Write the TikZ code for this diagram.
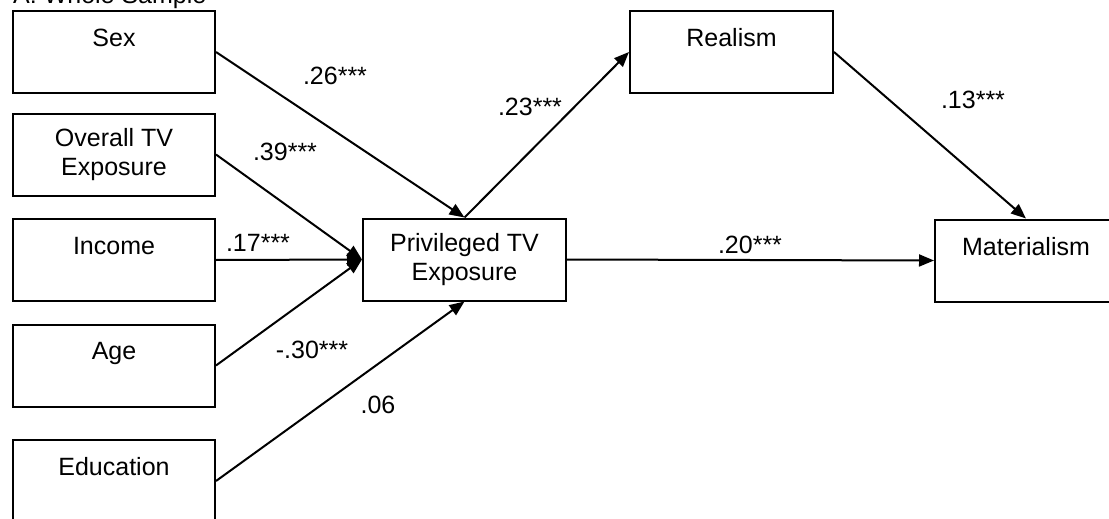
\documentclass[tikz,border=0pt]{standalone}
\usepackage{fontspec}
\setmainfont{Liberation Sans}
\usetikzlibrary{arrows.meta,positioning}
\tikzstyle{block} = [rectangle, draw, line width=2pt, minimum width=202pt,
    minimum height=82pt, inner sep=0pt, align=center,
    font=\fontsize{25}{28.5}\selectfont]
\tikzstyle{line} = [draw, line width=2pt, -{Triangle[length=15pt,width=12pt]}]
\tikzstyle{coef} = [inner sep=0pt, font=\fontsize{25}{28.5}\selectfont]

\begin{document}
\begin{tikzpicture}[x=1pt,y=-1pt]
        \useasboundingbox (0,0) rectangle (1109,519);
        % Title (cut at the top)
        \node [coef, anchor=base west] (title) at (13,4) {A: Whole Sample};
        % Place nodes
        \node [block] (sex) at (114,52) {Sex\\\mbox{}};
        \node [block] (overall) at (114,154.5) {Overall TV\\Exposure};
        \node [block] (income) at (114,260) {Income\\\mbox{}};
        \node [block] (age) at (114,365.5) {Age\\\mbox{}};
        \node [block] (educ) at (114,481) {Education\\\mbox{}};
        \node [block, minimum width=203pt] (priv) at (464.5,259.5) {Privileged TV\\Exposure};
        \node [block, minimum width=203pt] (realism) at (731.5,52) {Realism\\\mbox{}};
        \node [block, minimum width=182pt] (mater) at (1026,260.5) {Materialism\\\mbox{}};
        % Draw edges
        \path [line] (sex.east) -- (priv.north);
        \path [line] (overall.east) -- (priv.west);
        \path [line] (income.east) -- (priv.west);
        \path [line] (age.east) -- (priv.west);
        \path [line] (educ.east) -- (priv.south);
        \path [line] (priv.north) -- (realism.west);
        \path [line] (realism.east) -- (mater.north);
        \path [line] (priv.east) -- (mater.west);
        % Coefficients
        \node [coef] (c26) at (335,76) {.26***};
        \node [coef] (c39) at (285,152) {.39***};
        \node [coef] (c17) at (258,243) {.17***};
        \node [coef] (c30) at (312,350) {-.30***};
        \node [coef] (c06) at (378,405) {.06};
        \node [coef] (c23) at (530,107) {.23***};
        \node [coef] (c13) at (973,100) {.13***};
        \node [coef] (c20) at (750,245) {.20***};
\end{tikzpicture}
\end{document}
